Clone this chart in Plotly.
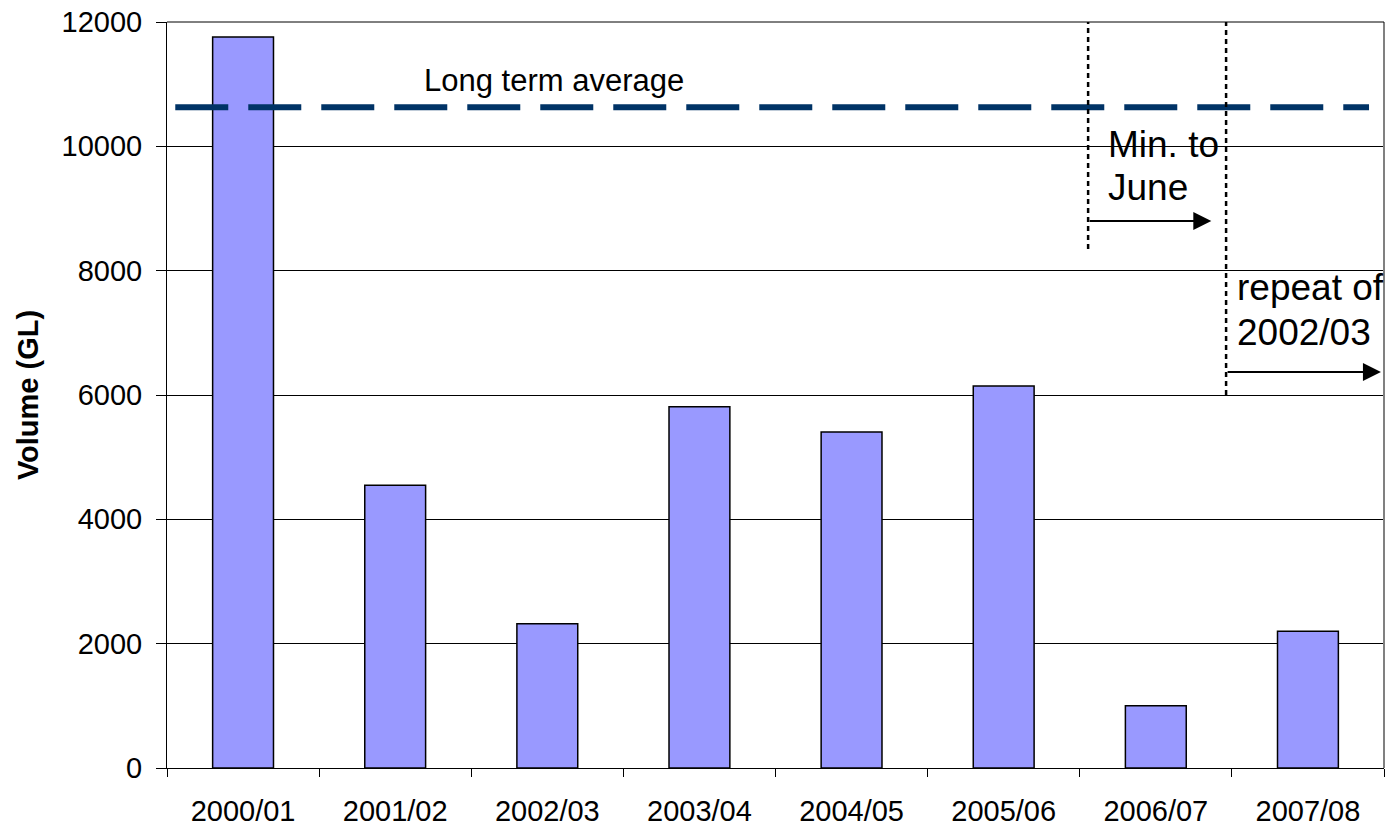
import plotly.graph_objects as go

years = ["2000/01", "2001/02", "2002/03", "2003/04", "2004/05", "2005/06", "2006/07", "2007/08"]
volumes = [11760, 4550, 2320, 5810, 5405, 6145, 1000, 2200]
long_term_average = 10630

# annotation guides (category-axis positions and values)
min_june_x = 5.555
min_june_end_x = 6.365
min_june_top = 12000
min_june_bottom = 8350
min_june_arrow_y = 8800
repeat_x = 6.462
repeat_end_x = 7.48
repeat_top = 12000
repeat_bottom = 6000
repeat_arrow_y = 6370

FONT = "Liberation Sans, Arial, sans-serif"

fig = go.Figure()
fig.add_trace(go.Bar(
    x=years, y=volumes, width=0.4,
    marker=dict(color="#9999FF", line=dict(color="black", width=1.5)),
    showlegend=False,
))

fig.update_layout(
    width=1390, height=826,
    margin=dict(l=167, r=6, t=22, b=58),
    paper_bgcolor="white", plot_bgcolor="white",
    font=dict(family=FONT, color="black", size=29),
)
fig.update_xaxes(
    type="category", range=[-0.5, 7.5], tickson="boundaries",
    ticks="outside", ticklen=8, tickcolor="black", tickwidth=1,
    showline=True, linecolor="black", linewidth=1, showgrid=False,
    tickfont=dict(size=29, family=FONT), ticklabelstandoff=17,
    automargin=False,
)
fig.update_yaxes(
    range=[0, 12000], dtick=2000, tickformat="d",
    ticks="outside", ticklen=10, tickcolor="black", tickwidth=1,
    showline=True, linecolor="black", linewidth=1,
    showgrid=True, gridcolor="black", gridwidth=1, zeroline=False,
    tickfont=dict(size=29, family=FONT), ticklabelstandoff=8,
    ticklabeloverflow="allow", automargin=False,
    title=dict(text="<b>Volume (GL)</b>", font=dict(size=29, family=FONT), standoff=14),
)

# right border and top line
fig.add_shape(type="line", xref="paper", yref="paper", x0=1, x1=1, y0=0, y1=1,
              line=dict(color="#808080", width=2))
fig.add_shape(type="line", xref="paper", yref="paper", x0=0, x1=1, y0=1, y1=1,
              line=dict(color="black", width=1))

# long term average dashed line
fig.add_shape(type="line", xref="paper", yref="y", x0=0.0068, x1=0.9877,
              y0=long_term_average, y1=long_term_average,
              line=dict(color="#003366", width=6, dash="53px,20px"))
fig.add_annotation(text="Long term average", xref="paper", yref="y",
                   x=0.2096, y=11067, xanchor="left", yanchor="middle",
                   showarrow=False, font=dict(size=31, family=FONT))

# dotted guides
fig.add_shape(type="line", xref="x", yref="y", x0=min_june_x, x1=min_june_x,
              y0=min_june_bottom, y1=min_june_top,
              line=dict(color="black", width=2.5, dash="5px,4px"))
fig.add_shape(type="line", xref="x", yref="y", x0=repeat_x, x1=repeat_x,
              y0=repeat_bottom, y1=repeat_top,
              line=dict(color="black", width=2.5, dash="5px,4px"))

# arrows
fig.add_annotation(x=min_june_end_x, y=min_june_arrow_y, ax=min_june_x, ay=min_june_arrow_y,
                   xref="x", yref="y", axref="x", ayref="y", text="",
                   showarrow=True, arrowhead=2, arrowsize=1.8, arrowwidth=2, arrowcolor="black")
fig.add_annotation(x=repeat_end_x, y=repeat_arrow_y, ax=repeat_x, ay=repeat_arrow_y,
                   xref="x", yref="y", axref="x", ayref="y", text="",
                   showarrow=True, arrowhead=2, arrowsize=1.8, arrowwidth=2, arrowcolor="black")

# text labels
for txt, xp, yv in [("Min. to", 0.7716, 10022), ("June", 0.7716, 9330),
                    ("repeat of", 0.8776, 7737), ("2002/03", 0.8776, 7013)]:
    fig.add_annotation(text=txt, xref="paper", yref="y", x=xp, y=yv,
                       xanchor="left", yanchor="middle", showarrow=False,
                       font=dict(size=37, family=FONT))

fig.write_html("out.html", config={"displayModeBar": False},
               post_script="document.body.style.margin='0';")
